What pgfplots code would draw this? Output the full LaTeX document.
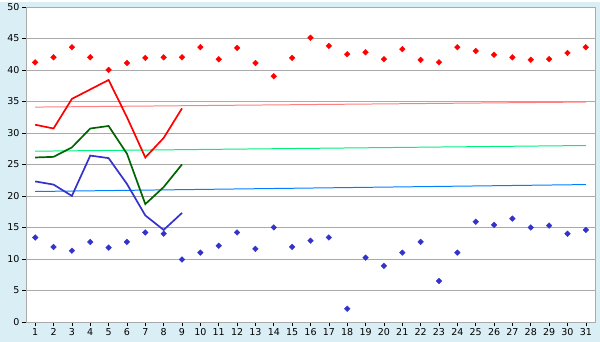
\documentclass[border=0pt]{standalone}
\usepackage{pgfplots}
\pgfplotsset{compat=1.18}
\usepackage{fontspec}
\setmainfont{DejaVu Sans}
\definecolor{bgblue}{RGB}{217,238,245}
\definecolor{gridgray}{RGB}{170,170,170}
\definecolor{redl}{RGB}{255,0,0}
\definecolor{greenl}{RGB}{0,100,0}
\definecolor{bluel}{RGB}{51,51,204}
\definecolor{redt}{RGB}{255,128,128}
\definecolor{greent}{RGB}{0,240,128}
\definecolor{bluet}{RGB}{0,128,255}
\begin{document}
\begin{tikzpicture}[x=1bp,y=1bp]
\fill[bgblue] (-26,-20) rectangle (574,320);
\begin{axis}[
  at={(0,0)}, anchor=south west,
  scale only axis, width=569bp, height=315bp,
  xmin=0.5, xmax=31.5, ymin=0, ymax=50,
  xtick={1,...,31}, ytick={0,5,...,50},
  axis background/.style={fill=white},
  axis line style={gridgray, line width=0.8pt},
  ymajorgrids, grid style={gridgray, line width=0.8pt},
  tick align=outside, tick pos=left,
  major tick length=4bp,
  tick style={black, line width=0.6pt},
  tick label style={font=\fontsize{9.5bp}{11bp}\selectfont},
  /pgf/number format/assume math mode=true,
  xticklabel style={yshift=1bp},
  yticklabel style={xshift=1bp},
  clip=false,
]
% trend lines
\addplot[redt, line width=1pt] coordinates {(1,34.1) (31,34.9)};
\addplot[greent, line width=1pt] coordinates {(1,27.1) (31,28.0)};
\addplot[bluet, line width=1pt] coordinates {(1,20.7) (31,21.8)};
% lines
\addplot[redl, line width=1.7pt] coordinates {
(1,31.3) (2,30.7) (3,35.4) (4,36.9) (5,38.4) (6,32.5) (7,26.1) (8,29.2) (9,33.9)};
\addplot[greenl, line width=1.7pt] coordinates {
(1,26.1) (2,26.2) (3,27.7) (4,30.7) (5,31.1) (6,26.7) (7,18.7) (8,21.4) (9,25.0)};
\addplot[bluel, line width=1.7pt] coordinates {
(1,22.3) (2,21.8) (3,20.0) (4,26.4) (5,26.0) (6,21.9) (7,16.9) (8,14.6) (9,17.3)};
% points
\addplot[only marks, mark=square*, mark size=2.0bp, redl, mark options={fill=redl, rotate=45}] coordinates {
(1,41.2) (2,42.0) (3,43.6) (4,42.0) (5,40.0) (6,41.1) (7,41.9) (8,42.0) (9,42.0) (10,43.6)
(11,41.7) (12,43.5) (13,41.1) (14,39.0) (15,41.9) (16,45.1) (17,43.8) (18,42.5) (19,42.8) (20,41.7)
(21,43.3) (22,41.6) (23,41.2) (24,43.6) (25,43.0) (26,42.4) (27,42.0) (28,41.6) (29,41.7) (30,42.7) (31,43.6)};
\addplot[only marks, mark=square*, mark size=2.0bp, bluel, mark options={fill=bluel, rotate=45}] coordinates {
(1,13.4) (2,11.9) (3,11.3) (4,12.7) (5,11.8) (6,12.7) (7,14.2) (8,14.0) (9,9.9) (10,11.0)
(11,12.1) (12,14.2) (13,11.6) (14,15.0) (15,11.9) (16,12.9) (17,13.4) (18,2.1) (19,10.2) (20,8.9)
(21,11.0) (22,12.7) (23,6.5) (24,11.0) (25,15.9) (26,15.4) (27,16.4) (28,15.0) (29,15.3) (30,14.0) (31,14.6)};
\end{axis}
\end{tikzpicture}
\end{document}
